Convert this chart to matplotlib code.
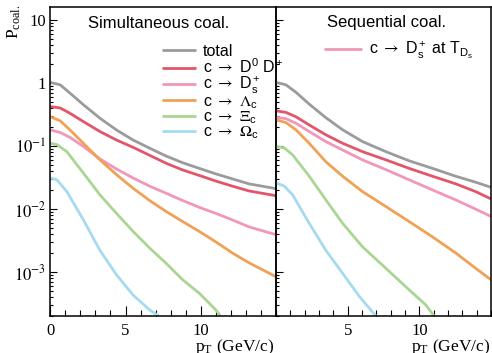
import numpy as np
import matplotlib
matplotlib.use('Agg')
import matplotlib.pyplot as plt
from matplotlib.ticker import FixedLocator, MultipleLocator, LogLocator, FuncFormatter, NullFormatter

plt.rcParams['mathtext.fontset'] = 'stix'
plt.rcParams['font.family'] = ['Liberation Serif', 'DejaVu Serif']

# ---------------- data ----------------
# Simultaneous coalescence (left panel)
pt_sim = [0, 0.66, 1.3, 2.2, 3.3, 4.4, 5.5, 6.6, 7.7, 8.8, 9.9, 11.0, 12.1, 13.2, 15.0]
sim_total = [1.02, 0.93, 0.69, 0.45, 0.275, 0.179, 0.124, 0.092, 0.069, 0.054, 0.044, 0.036, 0.030, 0.025, 0.021]
sim_D0Dp = [0.42, 0.40, 0.33, 0.243, 0.169, 0.124, 0.095, 0.071, 0.053, 0.0415, 0.034, 0.0277, 0.023, 0.0193, 0.0162]
sim_Ds = [0.18, 0.163, 0.137, 0.098, 0.062, 0.043, 0.031, 0.023, 0.0177, 0.0136, 0.0106, 0.0085, 0.0067, 0.0052, 0.0039]
sim_Lc = [0.29, 0.25, 0.18, 0.110, 0.060, 0.035, 0.0213, 0.0136, 0.0091, 0.0063, 0.0044, 0.0030, 0.0020, 0.0014, 0.00084]
pt_sim_Xi = [0, 0.44, 1.1, 2.2, 3.3, 4.4, 5.5, 6.6, 7.7, 8.8, 9.9, 11.0, 11.3]
sim_Xic = [0.11, 0.105, 0.081, 0.037, 0.0167, 0.0085, 0.0044, 0.0024, 0.00137, 0.00075, 0.00046, 0.00025, 0.0002]
pt_sim_Om = [0, 0.44, 1.1, 2.2, 3.3, 4.4, 5.5, 6.6, 7.2]
sim_Omc = [0.031, 0.029, 0.0188, 0.0067, 0.0022, 0.0009, 0.00043, 0.00025, 0.0002]

# Sequential coalescence (right panel)
pt_seq = [0, 0.7, 1.39, 2.32, 3.48, 4.65, 6.04, 7.67, 9.29, 10.92, 12.54, 13.94, 15.0]
seq_total = [1.02, 0.93, 0.71, 0.46, 0.28, 0.18, 0.117, 0.081, 0.058, 0.044, 0.033, 0.0265, 0.022]
seq_D0Dp = [0.36, 0.34, 0.29, 0.215, 0.150, 0.110, 0.081, 0.060, 0.044, 0.033, 0.025, 0.0188, 0.0144]
seq_Ds = [0.285, 0.27, 0.229, 0.169, 0.117, 0.086, 0.060, 0.042, 0.029, 0.020, 0.0139, 0.0099, 0.0076]
seq_Lc = [0.26, 0.234, 0.18, 0.110, 0.056, 0.033, 0.0188, 0.0109, 0.0063, 0.0036, 0.0020, 0.00114, 0.00075]
pt_seq_Xi = [0, 0.58, 1.16, 2.32, 3.48, 4.65, 6.04, 7.67, 9.29, 10.45, 11.03]
seq_Xic = [0.0975, 0.093, 0.072, 0.033, 0.0139, 0.0059, 0.0025, 0.00114, 0.00052, 0.0003, 0.0002]
pt_seq_Om = [0, 0.58, 1.16, 2.32, 3.48, 4.65, 5.81, 6.97]
seq_Omc = [0.026, 0.023, 0.0167, 0.0059, 0.0022, 0.00095, 0.00041, 0.0002]

labels = ['total',
          r'c $\rightarrow$ D$\mathregular{^0}$ D$\mathregular{^+}$',
          r'c $\rightarrow$ D$\mathregular{^+_s}$',
          r'c $\rightarrow$ $\Lambda\mathregular{_c}$',
          r'c $\rightarrow$ $\Xi\mathregular{_c}$',
          r'c $\rightarrow$ $\Omega\mathregular{_c}$']
seq_label = r'c $\rightarrow$ D$\mathregular{^+_s}$ at T$\mathregular{_{D_s}}$'
colors = ['#9b9b9b', '#e2566a', '#f296ba', '#f1a155', '#a9d693', '#a5daf0']

# ---------------- figure ----------------
W, H = 492, 353
fig = plt.figure(figsize=(W / 100, H / 100), dpi=100)
top, bot = 7, 316
axL = fig.add_axes([50.3 / W, 1 - bot / H, (276 - 50.3) / W, (bot - top) / H])
axR = fig.add_axes([276 / W, 1 - bot / H, (491 - 276) / W, (bot - top) / H])
axR.set_facecolor('none')

lw = 2.0
linesL = []
for x, y, c in [(pt_sim, sim_total, colors[0]), (pt_sim, sim_D0Dp, colors[1]),
                (pt_sim, sim_Ds, colors[2]), (pt_sim, sim_Lc, colors[3]),
                (pt_sim_Xi, sim_Xic, colors[4]), (pt_sim_Om, sim_Omc, colors[5])]:
    l, = axL.plot(x, y, color=c, lw=lw, solid_capstyle='butt')
    linesL.append(l)

linesR = []
for x, y, c in [(pt_seq, seq_total, colors[0]), (pt_seq, seq_D0Dp, colors[1]),
                (pt_seq, seq_Ds, colors[2]), (pt_seq, seq_Lc, colors[3]),
                (pt_seq_Xi, seq_Xic, colors[4]), (pt_seq_Om, seq_Omc, colors[5])]:
    l, = axR.plot(x, y, color=c, lw=lw, solid_capstyle='butt')
    linesR.append(l)


def yfmt(v, pos):
    e = int(round(np.log10(v)))
    if e == 0:
        return '1'
    if e == 1:
        return '10'
    return r'$10^{%d}$' % e


for ax in (axL, axR):
    ax.set_yscale('log')
    ax.set_ylim(2e-4, 16)
    ax.set_xlim(0, 15)
    ax.xaxis.set_minor_locator(MultipleLocator(1))
    ax.yaxis.set_major_locator(LogLocator(base=10, numticks=20))
    ax.yaxis.set_minor_locator(LogLocator(base=10, subs=np.arange(2, 10), numticks=20))
    ax.yaxis.set_minor_formatter(NullFormatter())
    ax.tick_params(axis='x', which='major', direction='in', length=7.5, width=0.8, pad=5, labelsize=12)
    ax.tick_params(axis='x', which='minor', direction='in', length=4, width=0.8)
    ax.tick_params(axis='y', which='major', direction='in', length=5, width=0.8, pad=3, labelsize=12)
    ax.tick_params(axis='y', which='minor', direction='in', length=2.5, width=0.8)
    ax.tick_params(which='both', top=False, right=False)
    for s in ax.spines.values():
        s.set_linewidth(1.1)

axL.xaxis.set_major_locator(FixedLocator([0, 5, 10]))
axR.xaxis.set_major_locator(FixedLocator([5, 10]))
axL.yaxis.set_major_formatter(FuncFormatter(yfmt))
axR.yaxis.set_major_formatter(NullFormatter())
axL.xaxis.set_major_formatter(FuncFormatter(lambda v, p: '%d' % v))
axR.xaxis.set_major_formatter(FuncFormatter(lambda v, p: '%d' % v))

# titles
axL.text((88 - 50.3) / (276 - 50.3), 1 - (24 - top) / (bot - top), 'Simultaneous coal.',
         transform=axL.transAxes, ha='left', va='center', fontsize=12, family='Liberation Sans')
axR.text((327 - 276) / (491 - 276), 1 - (23 - top) / (bot - top), 'Sequential coal.',
         transform=axR.transAxes, ha='left', va='center', fontsize=12, family='Liberation Sans')

# legends
legL = axL.legend(linesL, labels, loc='upper left',
                  bbox_to_anchor=((162 - 50.3) / (276 - 50.3), 1 - (44 - top) / (bot - top)),
                  frameon=False, borderpad=0, borderaxespad=0, handlelength=2.1,
                  handletextpad=0.45, labelspacing=-0.1,
                  prop={'family': 'Liberation Sans', 'size': 11.5})
legL.set_zorder(10)
legR = axR.legend([linesR[2]], [seq_label], loc='upper left',
                  bbox_to_anchor=((324 - 276) / (491 - 276), 1 - (40 - top) / (bot - top)),
                  frameon=False, borderpad=0, borderaxespad=0, handlelength=2.4,
                  handletextpad=0.4, prop={'family': 'Liberation Sans', 'size': 11.5})

# axis titles
fig.text(14 / W, 1 - 5 / H, r'P$\mathregular{_{coal.}}$', rotation=90, ha='center', va='top', fontsize=12.5)
fig.text(274 / W, 1 - 351 / H, r'p$\mathregular{_T}$ (GeV/c)', ha='right', va='baseline', fontsize=12.5)
fig.text(490 / W, 1 - 351 / H, r'p$\mathregular{_T}$ (GeV/c)', ha='right', va='baseline', fontsize=12.5)

fig.savefig('out.png', dpi=100)
